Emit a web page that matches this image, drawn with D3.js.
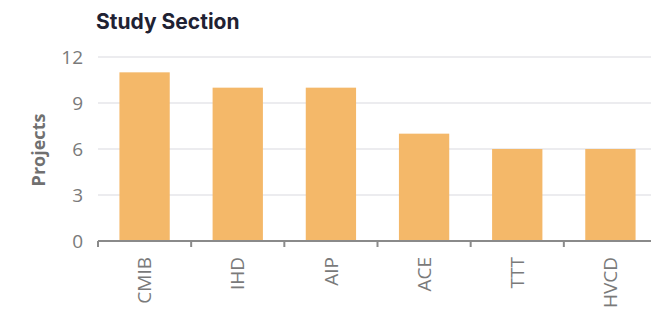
<!DOCTYPE html>
<html>
<head>
<meta charset="utf-8">
<script src="https://cdn.jsdelivr.net/npm/d3@7"></script>
<style>
  body { margin: 0; background: #fff; }
  text { font-family: "Open Sans", sans-serif; }
  text.title { font-family: Inter, Roboto, sans-serif; }
</style>
</head>
<body>
<div id="chart"></div>
<script>
var sections = ["CMIB", "IHD", "AIP", "ACE", "TTT", "HVCD"];
var projects = [11, 10, 10, 7, 6, 6];
var yTicks = [0, 3, 6, 9, 12];

var svgWidth = 651;
var svgHeight = 313;

var margin = { top: 57, left: 98, bottom: 72 };
var plotWidth = 559;
var height = svgHeight - margin.top - margin.bottom;

var svg = d3.select("#chart")
  .append("svg")
  .attr("width", svgWidth)
  .attr("height", svgHeight);

var chartGroup = svg.append("g")
  .attr("transform", `translate(${margin.left}, ${margin.top})`);

var xScale = d3.scaleBand()
  .domain(sections)
  .range([0, plotWidth])
  .paddingInner(0.46)
  .paddingOuter(0.23);

var yScale = d3.scaleLinear()
  .domain([0, 12])
  .range([height, 0]);

// gridlines
chartGroup.selectAll(".grid")
  .data(yTicks.filter(d => d > 0))
  .enter()
  .append("line")
  .attr("x1", 0)
  .attr("x2", plotWidth)
  .attr("y1", d => yScale(d))
  .attr("y2", d => yScale(d))
  .attr("stroke", "#e6e6ea")
  .attr("stroke-width", 1.5);

// bars
chartGroup.selectAll("rect")
  .data(projects)
  .enter()
  .append("rect")
  .attr("x", (d, i) => xScale(sections[i]))
  .attr("y", d => yScale(d))
  .attr("width", xScale.bandwidth())
  .attr("height", d => height - yScale(d))
  .attr("fill", "#f4b869");

// y axis
var yAxis = chartGroup.append("g")
  .call(d3.axisLeft(yScale).tickValues(yTicks).tickSize(0).tickPadding(15));
yAxis.select(".domain").remove();
yAxis.selectAll("text")
  .attr("font-size", "19px")
  .attr("fill", "#7a7a7a");

// x axis with ticks at band edges
var xAxis = chartGroup.append("g")
  .attr("transform", `translate(0, ${height})`)
  .call(d3.axisBottom(xScale).tickSize(0).tickPadding(10));
xAxis.select(".domain")
  .attr("stroke", "#8a8a8a")
  .attr("stroke-width", 2)
  .attr("d", `M0,0H${plotWidth}`);
xAxis.selectAll("text")
  .attr("transform", "rotate(-90)")
  .attr("text-anchor", "end")
  .attr("x", -16)
  .attr("y", 0)
  .attr("dy", "0.35em")
  .attr("font-size", "19px")
  .attr("fill", "#7a7a7a");

var step = xScale.step();
var edges = d3.range(0, sections.length).map(i => xScale(sections[i]) - xScale.paddingOuter() * step);
chartGroup.selectAll(".xtick")
  .data(edges)
  .enter()
  .append("line")
  .attr("x1", d => d)
  .attr("x2", d => d)
  .attr("y1", height)
  .attr("y2", height + 6)
  .attr("stroke", "#8a8a8a")
  .attr("stroke-width", 2);

// y label
svg.append("text")
  .attr("transform", "rotate(-90)")
  .attr("x", -150)
  .attr("y", 45)
  .attr("text-anchor", "middle")
  .attr("font-size", "18px")
  .attr("font-weight", "bold")
  .attr("fill", "#707070")
  .text("Projects");

// title
svg.append("text")
  .attr("class", "title")
  .attr("x", 96)
  .attr("y", 29)
  .attr("font-size", "21px")
  .attr("font-weight", "bold")
  .attr("fill", "#1f2233")
  .text("Study Section");
</script>
</body>
</html>
